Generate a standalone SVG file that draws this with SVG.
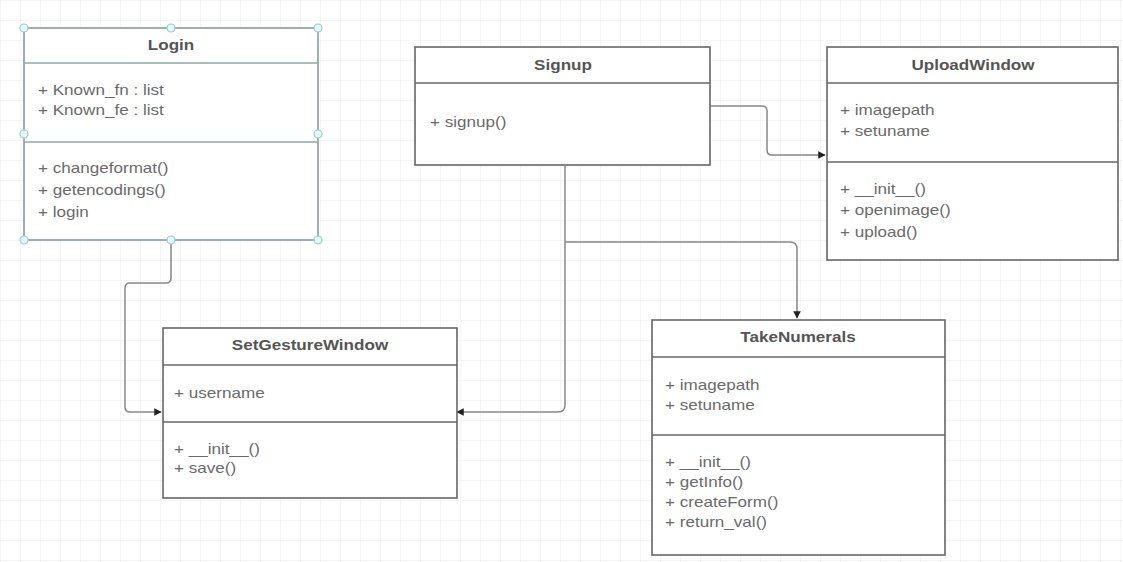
<svg xmlns="http://www.w3.org/2000/svg" width="1123" height="562" viewBox="0 0 1123 562">
<defs>
<pattern id="grid" width="20" height="20" patternUnits="userSpaceOnUse">
<path d="M20 0H0V20" fill="none" stroke="#ececec" stroke-width="1"/>
</pattern>
<marker id="arr" viewBox="0 0 10 10" refX="9" refY="5" markerWidth="5" markerHeight="5" orient="auto-start-reverse">
<path d="M0 0L10 5L0 10z" fill="#222"/>
</marker>
<style>
.box{fill:#fff;stroke:#666;stroke-width:1.6}
.sel{fill:#fff;stroke:#8fa9a9;stroke-width:1.8}
.ln{stroke:#666;stroke-width:1.6}
.lns{stroke:#8fa9a9;stroke-width:1.6}
.t{font-family:"Liberation Sans",Arial,sans-serif;font-size:14px;fill:#555;font-weight:bold;text-anchor:middle}
.m{font-family:"Liberation Sans",Arial,sans-serif;font-size:14px;fill:#6a6a6a}
.h{fill:#e6f7f7;stroke:#9cc9c9;stroke-width:1.2}
.c{fill:none;stroke:#888;stroke-width:1.5;marker-end:url(#arr)}
</style>
</defs>
<rect width="1123" height="562" fill="#fff"/>
<rect width="1123" height="562" fill="url(#grid)"/>
<g id="connectors">
<path class="c" d="M710 106H762Q767 106 767 111V150Q767 155 772 155H825"/>
<path class="c" d="M565 166V405Q565 412 558 412H457"/>
<path class="c" d="M565 242H790Q797 242 797 249V318"/>
<path class="c" d="M171 241V278Q171 283 166 283H130Q125 283 125 288V407Q125 412 130 412H161"/>
</g>
<g id="login">
<rect class="sel" x="24" y="28" width="294" height="212"/>
<line class="lns" x1="24" y1="63" x2="318" y2="63"/>
<line class="lns" x1="24" y1="142" x2="318" y2="142"/>
<text class="t" transform="translate(171 50) scale(1.22 1)">Login</text>
<text class="m" transform="translate(38 95) scale(1.22 1)">+ Known_fn : list</text>
<text class="m" transform="translate(38 115) scale(1.22 1)">+ Known_fe : list</text>
<text class="m" transform="translate(38 173) scale(1.22 1)">+ changeformat()</text>
<text class="m" transform="translate(38 195) scale(1.22 1)">+ getencodings()</text>
<text class="m" transform="translate(38 217) scale(1.22 1)">+ login</text>
<circle class="h" cx="24" cy="28" r="4"/><circle class="h" cx="171" cy="28" r="4"/><circle class="h" cx="318" cy="28" r="4"/>
<circle class="h" cx="24" cy="134" r="4"/><circle class="h" cx="318" cy="134" r="4"/>
<circle class="h" cx="24" cy="240" r="4"/><circle class="h" cx="171" cy="240" r="4"/><circle class="h" cx="318" cy="240" r="4"/>
</g>
<g id="signup">
<rect class="box" x="415" y="47" width="295" height="118"/>
<line class="ln" x1="415" y1="83" x2="710" y2="83"/>
<text class="t" transform="translate(563 70) scale(1.22 1)">Signup</text>
<text class="m" transform="translate(430 127) scale(1.22 1)">+ signup()</text>
</g>
<g id="uploadwindow">
<rect class="box" x="827" y="47" width="291" height="213"/>
<line class="ln" x1="827" y1="83" x2="1118" y2="83"/>
<line class="ln" x1="827" y1="162" x2="1118" y2="162"/>
<text class="t" transform="translate(973 70) scale(1.22 1)">UploadWindow</text>
<text class="m" transform="translate(840 115) scale(1.22 1)">+ imagepath</text>
<text class="m" transform="translate(840 136) scale(1.22 1)">+ setuname</text>
<text class="m" transform="translate(840 194) scale(1.22 1)">+ __init__()</text>
<text class="m" transform="translate(840 215) scale(1.22 1)">+ openimage()</text>
<text class="m" transform="translate(840 237) scale(1.22 1)">+ upload()</text>
</g>
<g id="setgesturewindow">
<rect class="box" x="163" y="328" width="294" height="170"/>
<line class="ln" x1="163" y1="365" x2="457" y2="365"/>
<line class="ln" x1="163" y1="422" x2="457" y2="422"/>
<text class="t" transform="translate(310 350) scale(1.22 1)">SetGestureWindow</text>
<text class="m" transform="translate(174 398) scale(1.22 1)">+ username</text>
<text class="m" transform="translate(174 454) scale(1.22 1)">+ __init__()</text>
<text class="m" transform="translate(174 473) scale(1.22 1)">+ save()</text>
</g>
<g id="takenumerals">
<rect class="box" x="652" y="320" width="293" height="235"/>
<line class="ln" x1="652" y1="357" x2="945" y2="357"/>
<line class="ln" x1="652" y1="435" x2="945" y2="435"/>
<text class="t" transform="translate(798 342) scale(1.22 1)">TakeNumerals</text>
<text class="m" transform="translate(665 390) scale(1.22 1)">+ imagepath</text>
<text class="m" transform="translate(665 410) scale(1.22 1)">+ setuname</text>
<text class="m" transform="translate(665 467) scale(1.22 1)">+ __init__()</text>
<text class="m" transform="translate(665 487) scale(1.22 1)">+ getInfo()</text>
<text class="m" transform="translate(665 507) scale(1.22 1)">+ createForm()</text>
<text class="m" transform="translate(665 527) scale(1.22 1)">+ return_val()</text>
</g>
</svg>
